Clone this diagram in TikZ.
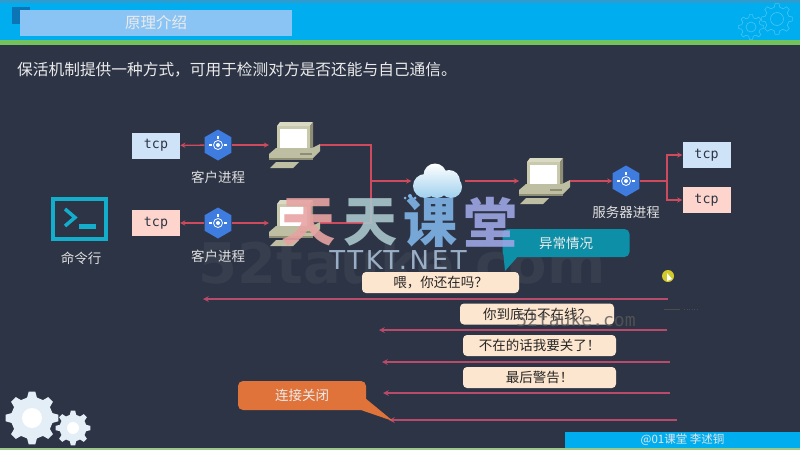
\documentclass[tikz,border=0pt]{standalone}
\usepackage{fontspec}
\setmainfont{Noto Sans CJK SC}
\newfontfamily\tcpfont{DejaVu Sans Mono}
\newfontfamily\latinfont{DejaVu Sans}
\newfontfamily\markfont[LetterSpace=10]{DejaVu Sans}
\usetikzlibrary{shapes.geometric}

\definecolor{bgdark}{HTML}{2D3445}
\definecolor{headblue}{HTML}{00ADEF}
\definecolor{topblue}{HTML}{2E9CCF}
\definecolor{titleblue}{HTML}{8AC4F5}
\definecolor{squareblue}{HTML}{0B75B5}
\definecolor{stripgreen}{HTML}{72C25E}
\definecolor{footgreen}{HTML}{9CC98A}
\definecolor{gearpale}{HTML}{E4EEF6}
\definecolor{gearline}{HTML}{45C6F2}
\definecolor{iconcyan}{HTML}{12AECB}
\definecolor{linered}{HTML}{CF4A5C}
\definecolor{linerose}{HTML}{B84A6A}
\definecolor{hexblue}{HTML}{3F7CE0}
\definecolor{cream}{HTML}{FDE6CF}
\definecolor{tcpblue}{HTML}{CFE3F8}
\definecolor{tcppink}{HTML}{FDD5CC}
\definecolor{alertteal}{HTML}{0E8FA8}
\definecolor{closeorange}{HTML}{E0733A}
\definecolor{pcface}{HTML}{C9C9AE}
\definecolor{pctop}{HTML}{DADAC4}
\definecolor{pcside}{HTML}{8E8E74}
\definecolor{pcbase}{HTML}{BEBEA2}
\definecolor{cloudlow}{HTML}{9FD0EE}
\definecolor{markpink}{HTML}{E8A3A3}
\definecolor{markgrey}{HTML}{A9C6CB}
\definecolor{markblue}{HTML}{7FB4E6}
\definecolor{markviolet}{HTML}{9DA6E4}
\definecolor{marknet}{HTML}{B5CCE6}

\newcommand\gearpath[6]{
  \pgfmathsetmacro\gearstep{360/#5}
  \path[#6,shift={(#1,#2)}] ({-0.3*\gearstep}:#4)
    \foreach \i [evaluate=\i as \a using \i*\gearstep] in {0,...,\numexpr#5-1\relax} {
      -- ({\a-0.3*\gearstep}:#4) -- ({\a-0.16*\gearstep}:#3)
      -- ({\a+0.16*\gearstep}:#3) -- ({\a+0.3*\gearstep}:#4)
    } -- cycle;
}

\begin{document}
\begin{tikzpicture}
[
  x=1pt, y=-1pt,
  >=stealth,
  link/.style = {draw = linered, line width = 1.3pt, ->},
  plainlink/.style = {draw = linered, line width = 1.3pt},
  msg/.style = {draw = linerose, line width = 1.5pt, ->},
  tcpbox/.style = {minimum width = 48pt, minimum height = 26pt, inner sep = 0pt, text = bgdark,
    font = \tcpfont\fontsize{13.3}{15}\selectfont},
  caption/.style = {text = white!88!black, inner sep = 0pt, font = \fontsize{13.5}{15}\selectfont},
  hexnode/.style = {regular polygon, regular polygon sides = 6, shape border rotate = 30,
    fill = hexblue, minimum size = 31pt, inner sep = 0pt},
  bubble/.style = {fill = cream, rounded corners = 4pt, minimum height = 21pt, inner sep = 0pt,
    text = black!85, font = \fontsize{13.5}{15}\selectfont},
  callout/.style = {rounded corners = 5pt, inner sep = 0pt, text = white!92!black,
    font = \fontsize{13.5}{15}\selectfont},
  sitemark/.style = {inner sep = 0pt, opacity = 0.9, font = \bfseries\fontsize{54}{56}\selectfont},
  pics/computer/.style = {code = {
    \fill[pctop] (-18,-19) -- (-15,-23) -- (18,-23) -- (15,-19) -- cycle;
    \fill[pcside] (15,-19) -- (18,-23) -- (18,3) -- (15,7) -- cycle;
    \fill[pcface] (-18,-19) rectangle (15,7);
    \fill[white] (-15,-16) rectangle (12,3);
    \fill[pcbase] (-26,9) -- (-19,3) -- (17,3) -- (25,-1) -- (25,6) -- (18,13) -- (-26,13) -- cycle;
    \fill[pcside] (-26,13) rectangle (18,15);
    \fill[pcside] (5,8) rectangle (17,10);
    \fill[pcbase] (-25,23) -- (-19,17) -- (4,17) -- (-2,23) -- cycle;
    \coordinate (-w) at (-26,0);
    \coordinate (-e) at (25,0);
  }},
  pics/hexicon/.style = {code = {
    \draw[white, line width = 0.8pt] (0,0) circle (4.5);
    \fill[white] (0,0) circle (2);
    \fill[white] (-9,-1) rectangle (-6,1);
    \fill[white] (6,-1) rectangle (9,1);
    \fill[white] (-1,-9) rectangle (1,-6);
  }},
]

\useasboundingbox (0,0) rectangle (800,450);

% background and frame
\fill[bgdark] (0,0) rectangle (800,450);
\fill[topblue] (0,0) rectangle (800,3);
\fill[headblue] (0,3) rectangle (800,40);
\fill[stripgreen] (0,40) rectangle (800,44.5);
\fill[footgreen] (0,447.5) rectangle (800,450);
\fill[squareblue] (12,7) rectangle (30,24);
\node (titlebar) at (156,23) [fill = titleblue, minimum width = 272pt, minimum height = 26pt, inner sep = 0pt,
  text = white!92!black, font = \fontsize{15.5}{17}\selectfont] {原理介绍};
\gearpath{751}{27}{12.5}{9.5}{8}{draw = gearline, line width = 0.6pt}
\draw[gearline, line width = 0.6pt] (751,27) circle (5);
\gearpath{777}{19}{15.5}{12}{8}{draw = gearline, line width = 0.6pt}
\draw[gearline, line width = 0.6pt] (777,19) circle (6.5);
\gearpath{32}{418}{26.5}{21}{8}{fill = gearpale}
\fill[white] (32,418) circle (10);
\gearpath{73}{428}{17.5}{13.5}{8}{fill = gearpale}
\fill[white] (73,428) circle (6);
\node (footer) at (682.5,440) [fill = headblue, minimum width = 235pt, minimum height = 16pt, inner sep = 0pt,
  text = white!90!black, font = \fontsize{11.5}{13}\selectfont] {@01课堂 李述铜};

\node (headline) at (17,70) [anchor = west, inner sep = 0pt, text = white!92!black, font = \fontsize{15.7}{18}\selectfont]
  {保活机制提供一种方式，可用于检测对方是否还能与自己通信。};

% command line icon
\node (term) at (79.5,219) [draw = iconcyan, line width = 4pt, minimum width = 53pt, minimum height = 40pt, inner sep = 0pt] {};
\draw[iconcyan, line width = 3.5pt] (65,209) -- (75,217.5) -- (65,226);
\draw[iconcyan, line width = 5pt] (79,226) -- (96,226);
\node (termtext) at (81,258) [caption] {命令行};

% boxes and processes
\node (tcpA) at (156,145.5) [tcpbox, fill = tcpblue] {tcp};
\node (tcpB) at (156,223) [tcpbox, fill = tcppink] {tcp};
\node (hexA) at (218,145) [hexnode] {};
\node (hexB) at (218,223) [hexnode] {};
\pic at (218,145) {hexicon};
\pic at (218,223) {hexicon};
\node (capA) at (218,177) [caption] {客户进程};
\node (capB) at (218,256) [caption] {客户进程};
\pic (pcA) at (295,145) {computer};
\pic (pcB) at (295,223) {computer};

\node (cloud) at (438,181) [minimum width = 53pt, minimum height = 34pt, inner sep = 0pt] {};
\shade[top color = white, bottom color = cloudlow]
  (435,175) circle (11.5) (449,181) circle (11) (425,186) circle (12) (451,187) circle (11) (437,187) circle (11);

\pic (pcC) at (545,181) {computer};
\node (hexC) at (626,181) [hexnode] {};
\pic at (626,181) {hexicon};
\node (capC) at (626,212) [caption] {服务器进程};
\node (tcpC) at (706.5,155) [tcpbox, fill = tcpblue] {tcp};
\node (tcpD) at (706.5,200) [tcpbox, fill = tcppink] {tcp};

\coordinate (joinL) at (371,181);
\coordinate (joinR) at (667,181);

\draw[link] (hexA) -- (tcpA);
\draw[link] (hexA) -- (pcA-w);
\draw[link] (hexB) -- (tcpB);
\draw[link] (hexB) -- (pcB-w);
\draw[plainlink] (pcA-e) -| (joinL);
\draw[plainlink] (pcB-e) -| (joinL);
\draw[link] (joinL) -- (cloud);
\draw[link] (cloud) -- (pcC-w);
\draw[link] (pcC-e) -- (hexC);
\draw[plainlink] (hexC) -- (joinR);
\draw[link] (joinR) |- (tcpC);
\draw[link] (joinR) |- (tcpD);

% big faint site mark sits under the messages
\node (faintmark) at (402,263) [inner sep = 0pt, text = white, opacity = 0.05, font = \latinfont\bfseries\fontsize{56}{60}\selectfont] {52tauke.com};

% messages
\coordinate (msgAr) at (668,299);
\coordinate (msgAl) at (203,299);
\coordinate (msgBr) at (667,330);
\coordinate (msgBl) at (379,330);
\coordinate (msgCr) at (670,362);
\coordinate (msgCl) at (382,362);
\coordinate (msgDr) at (670,393);
\coordinate (msgDl) at (383,393);
\coordinate (msgEr) at (677,420);
\coordinate (msgEl) at (389,420);
\draw[msg] (msgAr) -- (msgAl);
\draw[msg] (msgBr) -- (msgBl);
\draw[msg] (msgCr) -- (msgCl);
\draw[msg] (msgDr) -- (msgDl);
\draw[msg] (msgEr) -- (msgEl);

\fill[alertteal] (503,250) -- (505,271) -- (520,254) -- cycle;
\node (alert) at (566,243) [callout, fill = alertteal, minimum width = 127pt, minimum height = 28pt] {异常情况};
\node (markE) at (398,260) [inner sep = 0pt, text = marknet, opacity = 0.8, font = \markfont\fontsize{26}{28}\selectfont] {TTKT.NET};
\node (askA) at (440.5,282.5) [bubble, minimum width = 157pt] {喂，你还在吗？};
\node (askB) at (537,314) [bubble, minimum width = 154pt] {你到底在不在线？};
\node (askC) at (539.5,345.5) [bubble, minimum width = 153pt] {不在的话我要关了！};
\node (askD) at (539.5,377.5) [bubble, minimum width = 153pt] {最后警告！};
\fill[closeorange] (365,398) -- (393,421) -- (355,408) -- cycle;
\node (closed) at (302,395.5) [callout, fill = closeorange, minimum width = 128pt, minimum height = 29pt] {连接关闭};

% pointer
\node (cursor) at (668,276) [circle, fill = yellow!80!black, minimum size = 12pt, inner sep = 0pt] {};
\fill[white] (667,273) -- (667,281) -- (672,279) -- cycle;
\draw[black!70, line width = 0.6pt] (664,309) -- (680,309);
\draw[black!70, line width = 0.6pt, dotted] (684,309) -- (698,309);

% site marks
\node (markA) at (308,222) [sitemark, text = markpink] {天};
\node (markB) at (370,222) [sitemark, text = markgrey] {天};
\node (markC) at (430,222) [sitemark, text = markblue] {课};
\node (markD) at (490,222) [sitemark, text = markviolet] {堂};
\fill[markblue] (405,198) circle (1.5) (410,196) circle (2) (415,198) circle (1.5);
\node (markF) at (576,320) [inner sep = 0pt, text = gray!70!black, opacity = 0.8, font = \tcpfont\fontsize{18}{20}\selectfont] {52tauke.com};

\end{tikzpicture}
\end{document}
